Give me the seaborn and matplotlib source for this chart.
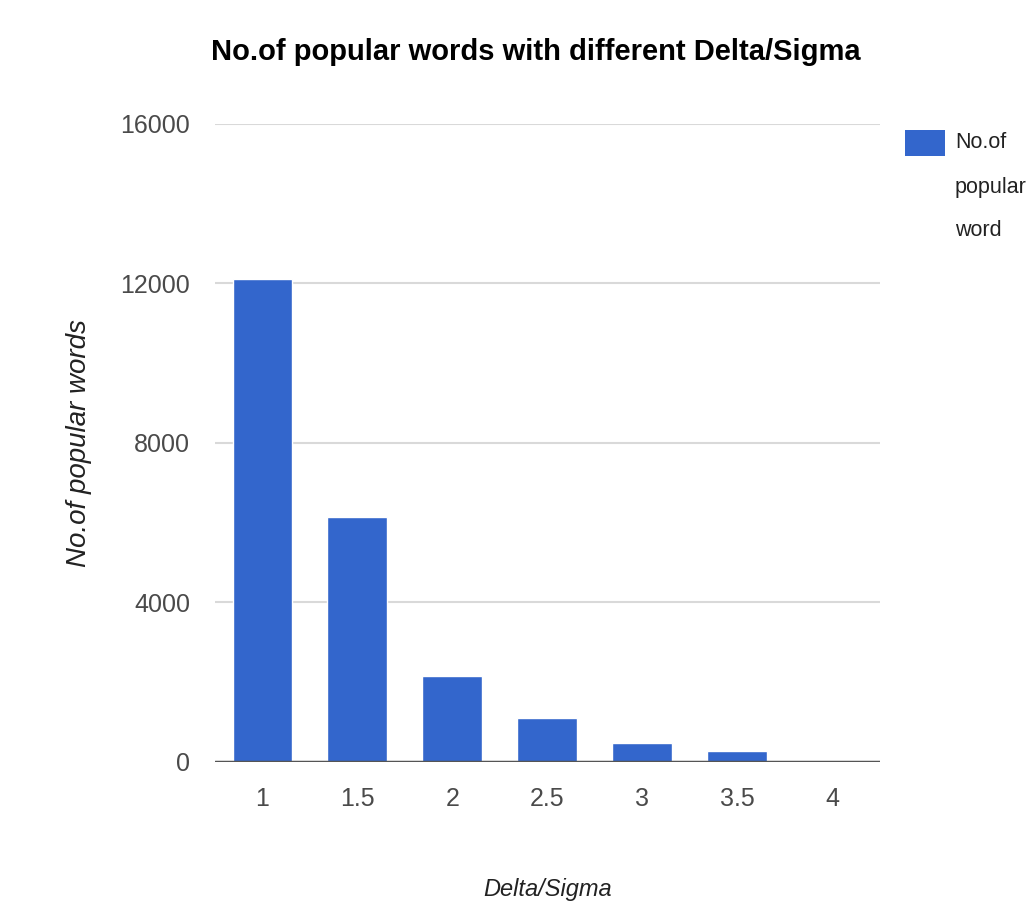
import matplotlib
matplotlib.use("Agg")
import matplotlib.pyplot as plt
from matplotlib.patches import Rectangle
import seaborn as sns
import pandas as pd

# Data
delta_sigma = ["1", "1.5", "2", "2.5", "3", "3.5", "4"]
popular_words = [12100, 6150, 2150, 1100, 475, 275, 20]
y_ticks = [0, 4000, 8000, 12000, 16000]
legend_lines = ["No.of", "popular", "word"]
bar_color = "#3366CC"

sns.set_theme(style="white")
plt.rcParams["font.family"] = ["Liberation Sans", "DejaVu Sans"]

df = pd.DataFrame({"Delta/Sigma": delta_sigma, "count": popular_words})

W, H = 1036, 907
fig = plt.figure(figsize=(W / 100, H / 100), dpi=100)
ax = fig.add_axes([0.2075, 0.160, 0.6415, 0.7033])

sns.barplot(data=df, x="Delta/Sigma", y="count", color=bar_color,
            width=0.63, saturation=1, ax=ax, zorder=3)

ax.set_ylim(0, 16000)
ax.set_xlim(-0.5, len(delta_sigma) - 0.5)
ax.set_yticks(y_ticks)
ax.set_yticklabels([str(t) for t in y_ticks])
ax.yaxis.grid(True, color="#d9d9d9", linewidth=1.5, zorder=0)
ax.axhline(0, color="#555555", linewidth=2.5, zorder=4)
for s in ax.spines.values():
    s.set_visible(False)
ax.tick_params(axis="both", length=0, labelsize=18, colors="#4a4a4a")
ax.tick_params(axis="y", pad=18)
ax.tick_params(axis="x", pad=18)

ax.set_xlabel("Delta/Sigma", fontsize=17, style="italic", color="#222222", labelpad=48)
ax.set_ylabel("No.of popular words", fontsize=20, style="italic", color="#222222", labelpad=20)

fig.suptitle("No.of popular words with different Delta/Sigma", fontsize=21,
             fontweight="bold", color="#000000", x=0.517, y=0.958)

# Legend: colour swatch with the series name wrapped over three lines
fig.add_artist(Rectangle((905 / W, 1 - 156 / H), 40 / W, 26 / H,
                         transform=fig.transFigure, facecolor=bar_color,
                         edgecolor="none"))
for i, line in enumerate(legend_lines):
    fig.text(955 / W, 1 - (143 + 44 * i) / H, line, fontsize=15.5,
             color="#222222", ha="left", va="center")

fig.savefig("out.png", dpi=100)
